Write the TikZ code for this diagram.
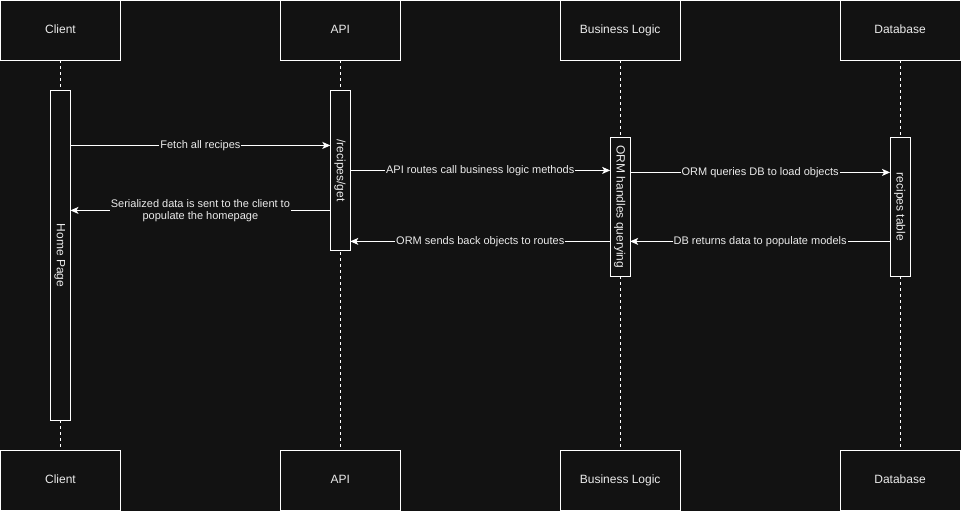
\documentclass[tikz,border=0pt]{standalone}
\usepackage{fontspec}
\setmainfont{Liberation Sans}
\usepackage{tikz}
\usetikzlibrary{arrows.meta,positioning,calc}
\definecolor{bgdark}{HTML}{121212}
\colorlet{myline}{white}
\colorlet{mytext}{white!92!black}
\tikzset{
	actor/.style={
		rectangle, draw=myline, fill=bgdark, text=mytext,
		minimum width=120pt, minimum height=60pt,
		text height=9pt, text depth=2pt,
		outer sep=0pt, font=\fontsize{12}{14}\selectfont,
	},
	bar/.style={
		rectangle, draw=myline, fill=bgdark,
		minimum width=20pt, outer sep=0pt,
	},
	bartext/.style={
		rotate=-90, text=mytext, font=\fontsize{12}{14}\selectfont,
		text height=9pt, text depth=2pt,
	},
	lifeline/.style={
		draw=myline, dash pattern=on 3pt off 3pt,
	},
	msg/.style={
		draw=myline, -{Stealth[length=8pt,width=7pt,inset=2pt]},
	},
	msglabel/.style={
		fill=bgdark, text=mytext, inner sep=1pt, align=center,
		font=\fontsize{11}{12}\selectfont,
	}
}

\begin{document}
\begin{tikzpicture}[x=1pt, y=1pt, line width=1pt, node distance=160pt]
	% Background
	\fill[bgdark] (0,0) rectangle (961,-511);
	% Participants (top)
	\node [actor] (client) at (60,-30) {Client};
	\node [actor, right=of client] (api) {API};
	\node [actor, right=of api] (logic) {Business Logic};
	\node [actor, right=of logic] (database) {Database};
	% Participants (bottom)
	\node [actor, below=390pt of client] (clientfoot) {Client};
	\node [actor, below=390pt of api] (apifoot) {API};
	\node [actor, below=390pt of logic] (logicfoot) {Business Logic};
	\node [actor, below=390pt of database] (databasefoot) {Database};
	% Lifelines
	\draw[lifeline] (client) -- (clientfoot);
	\draw[lifeline] (api) -- (apifoot);
	\draw[lifeline] (logic) -- (logicfoot);
	\draw[lifeline] (database) -- (databasefoot);
	% Activation bars
	\node [bar, minimum height=330pt, below=30pt of client] (homepage) {};
	\node [bartext] (homepagetext) at (homepage) {Home Page};
	\node [bar, minimum height=160pt, below=30pt of api] (recipesget) {};
	\node [bartext] (recipesgettext) at (recipesget) {/recipes/get};
	\node [bar, minimum height=139pt, below=77pt of logic] (orm) {};
	\node [bartext] (ormtext) at (orm) {ORM handles querying};
	\node [bar, minimum height=139pt, below=77pt of database] (table) {};
	\node [bartext] (tabletext) at (table) {recipes table};
	% Requests
	\draw[msg] (homepage.east |- 0,-145) -- (recipesget.west |- 0,-145)
	node[midway, msglabel] {Fetch all recipes};
	\draw[msg] (recipesget.east |- 0,-170) -- (orm.west |- 0,-170)
	node[midway, msglabel] {API routes call business logic methods};
	\draw[msg] (orm.east |- 0,-172) -- (table.west |- 0,-172)
	node[midway, msglabel] {ORM queries DB to load objects};
	% Responses
	\draw[msg] (recipesget.west |- 0,-210) -- (homepage.east |- 0,-210)
	node[midway, msglabel] {Serialized data is sent to the client to\\ populate the homepage};
	\draw[msg] (orm.west |- 0,-241) -- (recipesget.east |- 0,-241)
	node[midway, msglabel] {ORM sends back objects to routes};
	\draw[msg] (table.west |- 0,-241) -- (orm.east |- 0,-241)
	node[midway, msglabel] {DB returns data to populate models};
\end{tikzpicture}
\end{document}
